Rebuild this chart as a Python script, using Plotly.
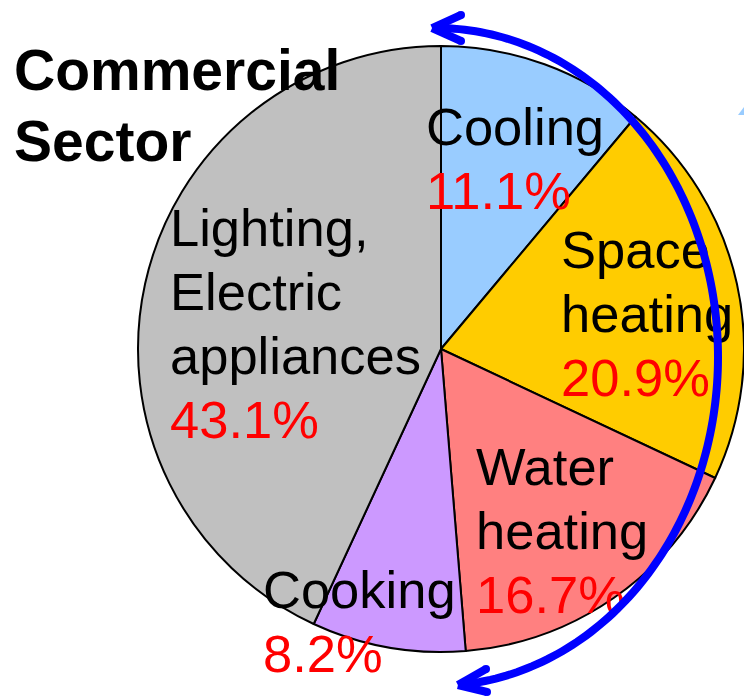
import numpy as np
import plotly.graph_objects as go

# ---- data ----
categories = ["Cooling", "Space heating", "Water heating", "Cooking", "Lighting, Electric appliances"]
shares = [11.1, 20.9, 16.7, 8.2, 43.1]
label_lines = [["Cooling"], ["Space", "heating"], ["Water", "heating"], ["Cooking"],
               ["Lighting,", "Electric", "appliances"]]
title_lines = ["Commercial", "Sector"]

# ---- styling ----
colors = ["#99CCFF", "#FFCC00", "#FF8080", "#CC99FF", "#C0C0C0"]
W, H = 744, 699
FONT = "Liberation Sans, Arial, sans-serif"
LABEL_SIZE = 52.5
LINE_STEP = 64
# (left x, first baseline y) of each label block, in pixels
label_pos = [(426, 147), (561, 270), (476, 487), (263, 610), (170, 248)]
TITLE_SIZE = 57
title_pos = (12, 92)
TITLE_STEP = 71


def px(x, y):
    return x / W, 1 - y / H


fig = go.Figure()

fig.add_trace(go.Pie(
    labels=categories, values=shares, sort=False, direction="clockwise", rotation=0,
    marker=dict(colors=colors, line=dict(color="black", width=2)),
    textinfo="none", hoverinfo="skip", showlegend=False,
    domain=dict(x=[138 / W, 1.0], y=[1 - 652 / H, 1 - 46 / H]),
))

# invisible cartesian trace so that pixel-like axes exist for the decorations
fig.add_trace(go.Scatter(x=[], y=[], showlegend=False, hoverinfo="skip"))

shapes = []
# slice labels (as shape labels so that the blue arc can be drawn over them)
DESC = 0.095 * LABEL_SIZE
for lines, v, (lx, by) in zip(label_lines, shares, label_pos):
    rows = [(s, "black") for s in lines] + [(f"{v:.1f}%", "#FF0000")]
    for i, (s, col) in enumerate(rows):
        yb = by + i * LINE_STEP + DESC
        shapes.append(dict(type="line", x0=lx, x1=lx + 10, y0=yb, y1=yb, xref="x", yref="y",
                           line=dict(width=0, color="rgba(0,0,0,0)"), layer="above",
                           label=dict(text=s, textposition="start", xanchor="left", yanchor="bottom",
                                      textangle=0, padding=0,
                                      font=dict(family=FONT, size=LABEL_SIZE, color=col))))

annotations = []
for i, s in enumerate(title_lines):
    tx, ty = px(title_pos[0], title_pos[1] + i * TITLE_STEP - 0.975 * TITLE_SIZE)
    annotations.append(dict(x=tx, y=ty, xref="paper", yref="paper", xanchor="left", yanchor="top",
                            align="left", showarrow=False, text=f"<b>{s}</b>",
                            font=dict(family=FONT, size=TITLE_SIZE, color="black")))

# blue double-headed arc
cx, cy, a, b = 436, 357, 282, 329
t = np.linspace(-0.014, 3.0637, 160)
xs = cx + a * np.sin(t)
ys = cy - b * np.cos(t)
arc = "M " + " L ".join(f"{x:.2f},{y:.2f}" for x, y in zip(xs, ys))
blue = "#0000FF"
LW = 8
shapes.append(dict(type="path", path=arc, xref="x", yref="y", line=dict(color=blue, width=LW), layer="above"))
x0, y0 = xs[0], ys[0]
x1, y1 = xs[-1], ys[-1]
arms = [((x0, y0), (461, 15)), ((x0, y0), (461, 41)), ((x1, y1), (486, 669)), ((x1, y1), (487, 692))]
for (p, q) in arms:
    shapes.append(dict(type="line", x0=p[0], y0=p[1], x1=q[0], y1=q[1], xref="x", yref="y",
                       line=dict(color=blue, width=LW), layer="above"))
    r = LW / 2
    shapes.append(dict(type="circle", x0=q[0] - r, x1=q[0] + r, y0=q[1] - r, y1=q[1] + r,
                       xref="x", yref="y", fillcolor=blue, line=dict(width=0), layer="above"))
# small light-blue fragment at the top right edge
shapes.append(dict(type="path", path="M 738,115 L 744,107 L 744,115 Z", xref="x", yref="y",
                   fillcolor="#99CCFF", line=dict(width=0), layer="above"))

fig.update_layout(
    width=W, height=H, autosize=False,
    margin=dict(l=0, r=0, t=0, b=0),
    paper_bgcolor="white", plot_bgcolor="rgba(0,0,0,0)",
    xaxis=dict(range=[0, W], visible=False, fixedrange=True, domain=[0, 1]),
    yaxis=dict(range=[H, 0], visible=False, fixedrange=True, domain=[0, 1]),
    annotations=annotations, shapes=shapes, showlegend=False,
)

fig.write_html("out.html", config={"displayModeBar": False},
               post_script="document.body.style.margin='0';document.body.style.overflow='hidden';")
